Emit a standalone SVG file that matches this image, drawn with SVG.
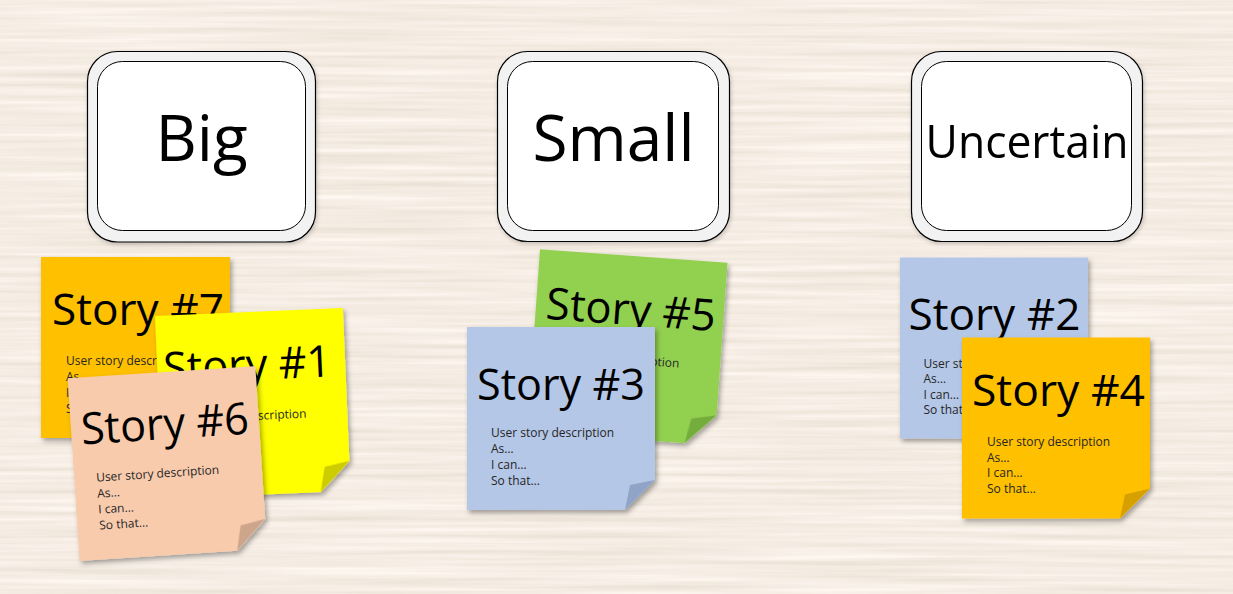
<svg xmlns="http://www.w3.org/2000/svg" width="1233" height="594" viewBox="0 0 1233 594">
<defs>
<filter id="wood" x="0" y="0" width="100%" height="100%" filterUnits="userSpaceOnUse">
<feTurbulence type="fractalNoise" baseFrequency="0.004 0.18" numOctaves="3" seed="7" result="n"/>
<feColorMatrix in="n" type="matrix" values="0.24 0 0 0 0.795  0.26 0 0 0 0.715  0.3 0 0 0 0.625  0 0 0 0 1"/>
</filter>
<filter id="shadow" x="-10%" y="-10%" width="125%" height="125%">
<feDropShadow dx="2" dy="3" stdDeviation="2.5" flood-color="#000" flood-opacity="0.35"/>
</filter>
<filter id="cardShadow" x="-10%" y="-10%" width="125%" height="125%">
<feDropShadow dx="1" dy="2" stdDeviation="2" flood-color="#000" flood-opacity="0.2"/>
</filter>
<style>
.outer{fill:#F2F2F2;stroke:#000;stroke-width:1.2}
.inner{fill:#FFFFFF;stroke:#000;stroke-width:1}
.head{font-family:"Open Sans","DejaVu Sans",sans-serif;fill:#000;text-anchor:middle}
.title{font-family:"Open Sans","DejaVu Sans",sans-serif;font-size:44px;fill:#000}
.desc{font-family:"Open Sans","DejaVu Sans",sans-serif;font-size:12px;fill:#262626}
.note{filter:url(#shadow)}
</style>
</defs>
<rect x="0" y="0" width="1233" height="594" fill="#E9D8C7"/>
<rect x="0" y="0" width="1233" height="594" filter="url(#wood)"/>

<g id="card-big" filter="url(#cardShadow)">
<rect class="outer" x="87.5" y="51.5" width="228" height="190.5" rx="30"/>
<rect class="inner" x="97.5" y="61.5" width="208" height="169" rx="25"/>
<text class="head" x="201.5" y="161" font-size="64">Big</text>
</g>
<g id="card-small" filter="url(#cardShadow)">
<rect class="outer" x="497.5" y="51.5" width="232" height="190" rx="30"/>
<rect class="inner" x="507.5" y="61.5" width="211" height="169" rx="25"/>
<text class="head" x="613.5" y="161" font-size="64">Small</text>
</g>
<g id="card-uncertain" filter="url(#cardShadow)">
<rect class="outer" x="911.5" y="51.5" width="231" height="190" rx="30"/>
<rect class="inner" x="921.5" y="61.5" width="210" height="169" rx="25"/>
<text class="head" x="1027" y="158" font-size="45" textLength="203" lengthAdjust="spacingAndGlyphs">Uncertain</text>
</g>

<g id="connectors"/>

<g id="story7" transform="translate(41,257)">
<g class="note"><path d="M0,0H189V151L159,181H0Z" fill="#FFC000"/><path d="M189,151L164,157L159,181Z" fill="#D6A000"/></g>
<text class="title" x="11" y="68" textLength="172" lengthAdjust="spacingAndGlyphs">Story #7</text>
<text class="desc" x="25" y="108">User story description</text>
<text class="desc" x="25" y="124">As…</text>
<text class="desc" x="25" y="140">I can…</text>
<text class="desc" x="25" y="156">So that…</text>
</g>

<g id="story1" transform="translate(155,316) rotate(-2.45)">
<g class="note"><path d="M0,0H188V153L158,183H0Z" fill="#FFFF00"/><path d="M188,153L163,158L158,183Z" fill="#CCCC00"/></g>
<text class="title" x="6" y="68" textLength="168" lengthAdjust="spacingAndGlyphs">Story #1</text>
<text class="desc" x="24" y="108">User story description</text>
<text class="desc" x="24" y="124">As…</text>
<text class="desc" x="24" y="140">I can…</text>
<text class="desc" x="24" y="156">So that…</text>
</g>

<g id="story6" transform="translate(67.7,378.3) rotate(-3.7)">
<g class="note"><path d="M0,0H188V153L158,183H0Z" fill="#F8CBAD"/><path d="M188,153L163,158L158,183Z" fill="#CDA58B"/></g>
<text class="title" x="10" y="67" textLength="168" lengthAdjust="spacingAndGlyphs">Story #6</text>
<text class="desc" x="22" y="105">User story description</text>
<text class="desc" x="22" y="121">As…</text>
<text class="desc" x="22" y="137">I can…</text>
<text class="desc" x="22" y="153">So that…</text>
</g>

<g id="story5" transform="translate(540,249.3) rotate(4.1)">
<g class="note"><path d="M0,0H188V153L158,183H0Z" fill="#92D050"/><path d="M188,153L163,158L158,183Z" fill="#74AD3C"/></g>
<text class="title" x="10" y="69" textLength="170" lengthAdjust="spacingAndGlyphs">Story #5</text>
<text class="desc" x="24" y="108">User story description</text>
<text class="desc" x="24" y="124">As…</text>
<text class="desc" x="24" y="140">I can…</text>
<text class="desc" x="24" y="156">So that…</text>
</g>

<g id="story3" transform="translate(467,327)">
<g class="note"><path d="M0,0H188V153L158,183H0Z" fill="#B4C7E7"/><path d="M188,153L163,158L158,183Z" fill="#8FA4C6"/></g>
<text class="title" x="10" y="73" textLength="168" lengthAdjust="spacingAndGlyphs">Story #3</text>
<text class="desc" x="24" y="110">User story description</text>
<text class="desc" x="24" y="126">As…</text>
<text class="desc" x="24" y="142">I can…</text>
<text class="desc" x="24" y="158">So that…</text>
</g>

<g id="story2" transform="translate(900,257.5)">
<g class="note"><path d="M0,0H188V151L158,181H0Z" fill="#B4C7E7"/><path d="M188,151L163,156L158,181Z" fill="#8FA4C6"/></g>
<text class="title" x="8.5" y="72" textLength="172" lengthAdjust="spacingAndGlyphs">Story #2</text>
<text class="desc" x="23.5" y="110">User story description</text>
<text class="desc" x="23.5" y="125.5">As…</text>
<text class="desc" x="23.5" y="141">I can…</text>
<text class="desc" x="23.5" y="156.5">So that…</text>
</g>

<g id="story4" transform="translate(962,337.5)">
<g class="note"><path d="M0,0H188V151L158,181H0Z" fill="#FFC000"/><path d="M188,151L163,157L158,181Z" fill="#D6A000"/></g>
<text class="title" x="10" y="68" textLength="173" lengthAdjust="spacingAndGlyphs">Story #4</text>
<text class="desc" x="25" y="108">User story description</text>
<text class="desc" x="25" y="124">As…</text>
<text class="desc" x="25" y="139.5">I can…</text>
<text class="desc" x="25" y="155">So that…</text>
</g>
</svg>
